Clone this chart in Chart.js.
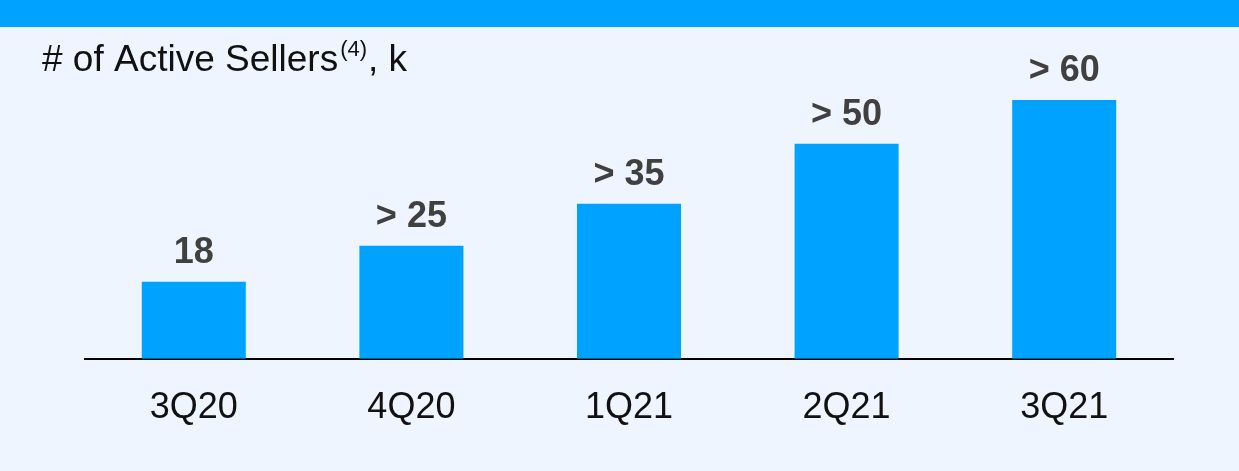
<!DOCTYPE html>
<html>
<head>
<meta charset="utf-8">
<script src="https://cdn.jsdelivr.net/npm/chart.js@4"></script>
<style>
  html, body { margin: 0; padding: 0; background: #EEF5FF; }
  #wrap { position: relative; width: 1239px; height: 471px; }
</style>
</head>
<body>
<div id="wrap"><canvas id="sellers-chart" width="1239" height="471"></canvas></div>
<script>
// Данные графика
const quarters = ['3Q20', '4Q20', '1Q21', '2Q21', '3Q21'];
const activeSellers = [18, 26.4, 36.2, 50.2, 60.4];   // высота столбцов, тыс.
const valueLabels = ['18', '> 25', '> 35', '> 50', '> 60'];
const chartTitle = '# of Active Sellers';
const titleNote = '(4)';
const titleUnit = ', k';

const barColor = '#00A2FF';

// Полоса сверху и заголовок с надстрочным индексом
const headerPlugin = {
    id: 'header',
    beforeDraw(chart) {
        const ctx = chart.ctx;
        ctx.save();
        ctx.fillStyle = '#EEF5FF';
        ctx.fillRect(0, 0, chart.width, chart.height);
        ctx.fillStyle = barColor;
        ctx.fillRect(0, 0, chart.width, 27);

        ctx.fillStyle = '#111111';
        ctx.textBaseline = 'alphabetic';
        ctx.textAlign = 'left';
        let x = 42;
        ctx.font = '37px "Liberation Sans", Arial, sans-serif';
        ctx.fillText(chartTitle, x, 71);
        x += ctx.measureText(chartTitle).width + 2;
        ctx.font = '22px "Liberation Sans", Arial, sans-serif';
        ctx.fillText(titleNote, x, 56);
        x += ctx.measureText(titleNote).width + 1;
        ctx.font = '37px "Liberation Sans", Arial, sans-serif';
        ctx.fillText(titleUnit, x, 71);
        ctx.restore();
    }
};

// Подписи значений над столбцами
const valueLabelPlugin = {
    id: 'valueLabels',
    afterDatasetsDraw(chart) {
        const ctx = chart.ctx;
        const meta = chart.getDatasetMeta(0);
        ctx.save();
        ctx.font = 'bold 36px "Liberation Sans", Arial, sans-serif';
        ctx.fillStyle = '#404040';
        ctx.textAlign = 'center';
        ctx.textBaseline = 'alphabetic';
        meta.data.forEach((bar, i) => {
            ctx.fillText(valueLabels[i], bar.x, bar.y - 19);
        });
        ctx.restore();
    }
};

new Chart(document.getElementById('sellers-chart').getContext('2d'), {
    type: 'bar',
    data: {
        labels: quarters,
        datasets: [{
            data: activeSellers,
            backgroundColor: barColor,
            borderWidth: 0,
            barPercentage: 0.478,
            categoryPercentage: 1
        }]
    },
    options: {
        responsive: false,
        animation: false,
        layout: {
            padding: { left: 85, right: 66, top: 59, bottom: 13 }
        },
        plugins: {
            legend: { display: false },
            tooltip: { enabled: false },
            title: { display: false }
        },
        scales: {
            y: {
                display: false,
                min: 0,
                max: 70
            },
            x: {
                grid: { display: false, drawTicks: false },
                border: { display: true, color: '#000000', width: 2 },
                ticks: {
                    color: '#111111',
                    padding: 28,
                    font: { family: '"Liberation Sans", Arial, sans-serif', size: 36 }
                }
            }
        }
    },
    plugins: [headerPlugin, valueLabelPlugin]
});
</script>
</body>
</html>
